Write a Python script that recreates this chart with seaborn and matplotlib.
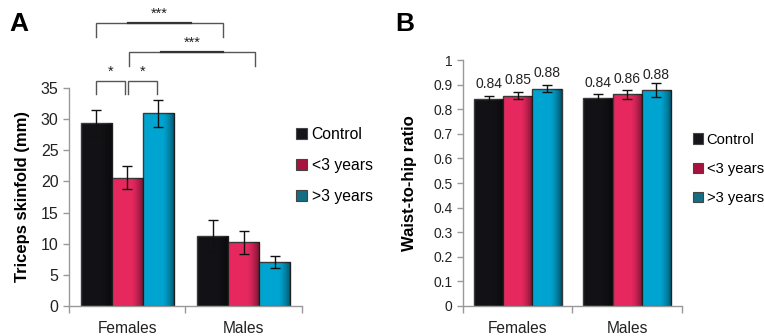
import numpy as np
import pandas as pd
import matplotlib
matplotlib.use("Agg")
import matplotlib.pyplot as plt
import seaborn as sns
from matplotlib.patches import Patch

# ---- data ----
groups = ["Females", "Males"]
cohorts = ["Control", "<3 years", ">3 years"]
triceps = {"Control": [29.3, 11.3], "<3 years": [20.6, 10.2], ">3 years": [30.9, 7.0]}
triceps_err = {"Control": [2.2, 2.5], "<3 years": [1.9, 1.9], ">3 years": [2.1, 0.95]}
whr = {"Control": [0.841, 0.845], "<3 years": [0.855, 0.860], ">3 years": [0.884, 0.878]}
whr_err = {"Control": [0.013, 0.015], "<3 years": [0.015, 0.020], ">3 years": [0.014, 0.030]}
whr_labels = {"Control": ["0.84", "0.84"], "<3 years": ["0.85", "0.86"], ">3 years": ["0.88", "0.88"]}

# significance brackets: (x_left, x_right, y_line, y_foot, label)
brackets = [(-0.267, 0.819, 45.4, 43.2, "***"),
            (0.017, 1.095, 40.8, 38.5, "***"),
            (-0.267, -0.017, 36.1, 34.0, "*"),
            (0.009, 0.259, 36.1, 34.0, "*")]

colors = {"Control": "#121216", "<3 years": "#e6285f", ">3 years": "#00a4d0"}
legend_colors = {"Control": "#15151a", "<3 years": "#a8123f", ">3 years": "#136e84"}

plt.rcParams["font.family"] = ["Liberation Sans", "DejaVu Sans"]

def long_df(d):
    rows = []
    for c in cohorts:
        for g, v in zip(groups, d[c]):
            rows.append({"group": g, "cohort": c, "value": v})
    return pd.DataFrame(rows)

fig = plt.figure(figsize=(7.64, 3.36), dpi=100)
axA = fig.add_axes([0.0903, 0.0893, 0.305, 0.649])
axB = fig.add_axes([0.606, 0.0893, 0.2866, 0.732])

# horizontal shading overlay (darker toward the right edge of each bar)
grad = np.zeros((1, 64, 4))
t = np.linspace(0, 1, 64)
grad[0, :, 3] = np.clip((t - 0.6) / 0.4, 0, 1) ** 1.5 * 0.5

def draw(ax, d, derr, ylim, yticks, ylabel, ytick_size, lpad):
    df = long_df(d)
    sns.barplot(data=df, x="group", y="value", hue="cohort", order=groups,
                hue_order=cohorts, palette=colors, errorbar=None, ax=ax,
                width=0.8, saturation=1, edgecolor="#3a3a3a", linewidth=1.0,
                legend=False)
    for cont, c in zip(ax.containers, cohorts):
        for p in cont:
            x0, w, h = p.get_x(), p.get_width(), p.get_height()
            im = ax.imshow(grad, extent=(x0, x0 + w, 0, h), aspect="auto",
                           zorder=p.get_zorder() + 0.1, interpolation="bilinear")
            im.set_clip_path(p)
        xs = [p.get_x() + p.get_width() / 2 for p in cont]
        ax.errorbar(xs, d[c], yerr=derr[c], fmt="none", ecolor="#111111",
                    elinewidth=1.0, capsize=3.5, capthick=1.0, zorder=5)
    ax.set_ylim(*ylim)
    ax.set_xlim(-0.5, 1.5)
    ax.set_yticks(yticks)
    ax.set_xticks([0, 1])
    ax.set_xticklabels(groups)
    ax.set_xticks([-0.5, 0.5, 1.5], minor=True)
    ax.tick_params(axis="x", which="major", length=0, labelsize=11.2, pad=11, colors="#222222")
    ax.tick_params(axis="x", which="minor", length=5, color="#999999", width=1)
    ax.tick_params(axis="y", length=4, color="#999999", width=1, labelsize=ytick_size,
                   labelcolor="#222222")
    for s in ["top", "right"]:
        ax.spines[s].set_visible(False)
    for s in ["left", "bottom"]:
        ax.spines[s].set_color("#999999")
        ax.spines[s].set_linewidth(1)
    ax.set_xlabel("")
    ax.set_ylabel(ylabel, fontsize=12, fontweight="bold", labelpad=lpad)
    ax.set_facecolor("white")

draw(axA, triceps, triceps_err, (0, 35), np.arange(0, 36, 5), "Triceps skinfold (mm)", 11.5, 8)
draw(axB, whr, whr_err, (0, 1), np.round(np.arange(0, 1.01, 0.1), 1), "Waist-to-hip ratio", 10, 12)
axB.set_yticklabels(["0"] + [f"{v:.1f}" for v in np.arange(0.1, 0.95, 0.1)] + ["1"])

# brackets on A
for xl, xr, yl, yf, lab in brackets:
    axA.plot([xl, xl, xr, xr], [yf, yl, yl, yf], color="#555555", lw=1.0,
             clip_on=False, solid_joinstyle="miter")
    if lab == "***":
        xm = (xl + xr) / 2
        axA.plot([xm - 0.27, xm + 0.27], [yl, yl], color="#333333", lw=1.6, clip_on=False)
    axA.text((xl + xr) / 2, yl + 0.4, lab, ha="center", va="bottom", fontsize=10.5,
             color="#222222", clip_on=False)

# value labels on B
for cont, c in zip(axB.containers, cohorts):
    for p, lab in zip(cont, whr_labels[c]):
        axB.annotate(lab, (p.get_x() + p.get_width() / 2, p.get_height()),
                     xytext=(0, 6), textcoords="offset points", ha="center",
                     va="bottom", fontsize=10, color="#222222")

handles = [Patch(facecolor=legend_colors[c], edgecolor="#444444", linewidth=0.8) for c in cohorts]
fig.legend(handles, cohorts, loc="center left", bbox_to_anchor=(0.379, 0.507),
           frameon=False, fontsize=11.3, handlelength=0.7, handleheight=0.7,
           handletextpad=0.3, labelspacing=1.0, borderaxespad=0)
fig.legend(handles, cohorts, loc="center left", bbox_to_anchor=(0.899, 0.497),
           frameon=False, fontsize=10.6, handlelength=0.7, handleheight=0.7,
           handletextpad=0.25, labelspacing=1.05, borderaxespad=0)

fig.text(0.012, 0.929, "A", fontsize=19, fontweight="bold", ha="left", va="center")
fig.text(0.517, 0.929, "B", fontsize=19, fontweight="bold", ha="left", va="center")

fig.savefig("out.png", dpi=100, facecolor="white")
